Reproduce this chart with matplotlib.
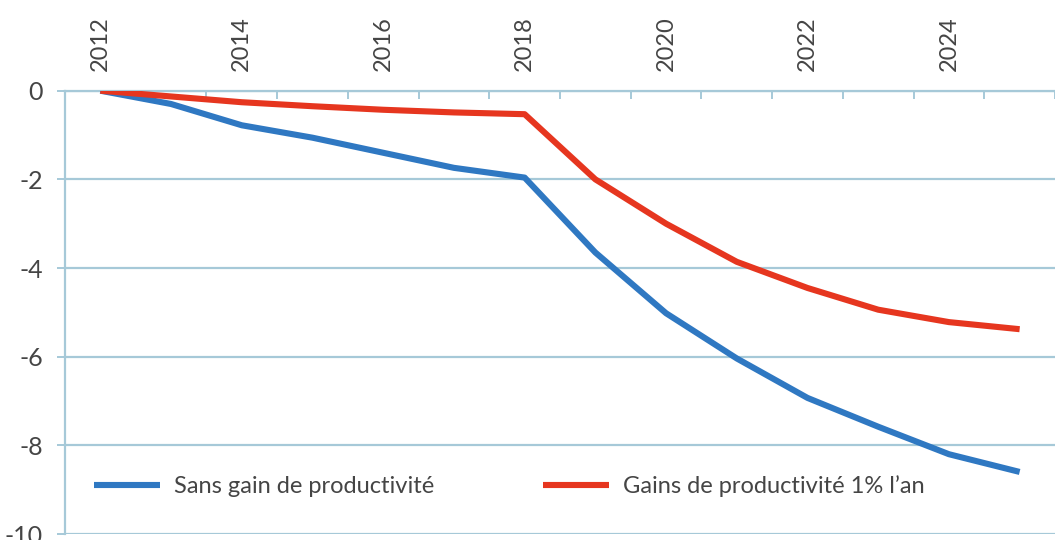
import matplotlib
matplotlib.use("Agg")
import matplotlib.pyplot as plt
import numpy as np

# data
years = list(range(2012, 2026))
sans_gain = [0, -0.3, -0.78, -1.06, -1.4, -1.74, -1.96, -3.65, -5.02, -6.04, -6.93, -7.58, -8.2, -8.6]
gain_1pct = [0, -0.13, -0.26, -0.35, -0.43, -0.49, -0.53, -2.0, -3.0, -3.86, -4.45, -4.94, -5.22, -5.38]
label_sans = "Sans gain de productivité"
label_gain = "Gains de productivité 1% l’an"
year_labels = [2012, 2014, 2016, 2018, 2020, 2022, 2024]
y_ticks = [0, -2, -4, -6, -8, -10]

plt.rcParams['font.family'] = ['Lato', 'DejaVu Sans']

grid_col = "#a6c9d8"
text_col = "#454545"
blue = "#2f78c2"
red = "#e6361f"

fig = plt.figure(figsize=(10.55, 5.4), dpi=100)
ax = fig.add_axes([65 / 1055, 1 - 534 / 540, 990 / 1055, (534 - 90.7) / 540])

ax.plot(years, sans_gain, color=blue, lw=4.4, solid_capstyle='butt', label=label_sans, zorder=3)
ax.plot(years, gain_1pct, color=red, lw=4.4, solid_capstyle='butt', label=label_gain, zorder=3)

ax.set_xlim(2011.5, 2011.5 + 990 / 71.3)
ax.set_ylim(-10, 0)

# y axis
ax.set_yticks(y_ticks)
ax.set_yticklabels([str(v) for v in y_ticks])
ax.yaxis.grid(True, color=grid_col, lw=1.6)
ax.tick_params(axis='y', direction='out', length=6, width=1.4, color=grid_col,
               labelsize=18, labelcolor=text_col, pad=10)

# x axis at the top, ticks between categories
ax.xaxis.tick_top()
ax.set_xticks(year_labels)
ax.set_xticklabels([str(y) for y in year_labels], rotation=90)
ax.set_xticks(np.arange(2011.5, 2026, 1), minor=True)
ax.tick_params(axis='x', which='major', length=0, labelsize=17, labelcolor=text_col, pad=14)
ax.tick_params(axis='x', which='minor', direction='in', length=6, width=1.4, color=grid_col,
               top=True, bottom=False)

for s in ['right', 'bottom']:
    ax.spines[s].set_visible(False)
for s in ['left', 'top']:
    ax.spines[s].set_color(grid_col)
    ax.spines[s].set_linewidth(1.6)
ax.set_axisbelow(True)

leg = ax.legend(loc='center left', bbox_to_anchor=(0.029, 0.108), ncol=2, frameon=False,
                fontsize=17, handlelength=2.8, handletextpad=0.6, columnspacing=4.6,
                borderpad=0, borderaxespad=0)
for t in leg.get_texts():
    t.set_color(text_col)

fig.savefig("out.png", dpi=100)
